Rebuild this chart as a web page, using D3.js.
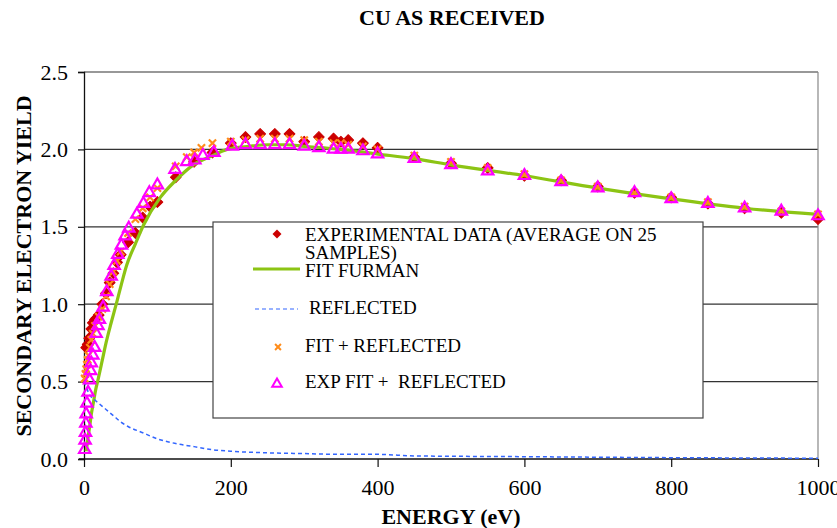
<!DOCTYPE html>
<html>
<head>
<meta charset="utf-8">
<script src="https://cdn.jsdelivr.net/npm/d3@7"></script>
<style>
  body { margin: 0; background: #fff; }
  text { white-space: pre; }
</style>
</head>
<body>
<div id="chart"></div>
<script>
// experimental data (average on 25 samples)
var expE = [3,5,7,10,12,15,17,20,25,30,35,40,45,50,60,70,80,90,100,125,150,175,200,220,240,260,280,300,320,340,350,360,380,400,450,500,550,600,650,700,750,800,850,900,950,1000];
var expY = [0.72,0.74,0.78,0.84,0.88,0.90,0.91,0.93,1.00,1.07,1.14,1.20,1.27,1.32,1.40,1.46,1.56,1.63,1.66,1.82,1.92,1.98,2.04,2.08,2.10,2.10,2.10,2.05,2.08,2.07,2.05,2.06,2.04,2.01,1.95,1.91,1.88,1.83,1.80,1.76,1.72,1.69,1.65,1.62,1.59,1.55];

// fit furman
var fitE = [3,5,8,10,13,16,19,25,30,37,45,51,58,70,81,104,125,149,175,195,225,250,275,300,350,400,450,500,600,700,800,900,1000];
var fitY = [0.05,0.12,0.22,0.29,0.37,0.45,0.51,0.64,0.75,0.88,1.02,1.13,1.25,1.39,1.51,1.69,1.80,1.90,1.96,2.00,2.02,2.03,2.03,2.02,2.00,1.97,1.94,1.90,1.83,1.75,1.68,1.62,1.58];

// reflected
var refE = [0,3,6,10,15,20,30,40,50,60,80,100,125,150,175,200,250,300,350,400,450,600,750,1000];
var refY = [0.50,0.47,0.43,0.40,0.38,0.36,0.32,0.28,0.24,0.21,0.17,0.13,0.10,0.08,0.06,0.05,0.04,0.035,0.03,0.03,0.02,0.015,0.01,0.005];

// fit + reflected
var sumE = [1,2,3,4,5,6,8,10,12,15,20,25,30,35,40,45,50,60,70,80,90,100,125,140,150,160,175,200,220,240,260,280,300,320,340,350,360,380,400,450,500,550,600,650,700,750,800,850,900,950,1000];
var sumY = [0.52,0.55,0.58,0.61,0.64,0.67,0.72,0.77,0.81,0.86,0.92,0.97,1.05,1.13,1.21,1.28,1.34,1.46,1.55,1.62,1.69,1.75,1.89,1.95,1.98,2.01,2.04,2.05,2.06,2.07,2.07,2.07,2.06,2.05,2.04,2.04,2.03,2.02,2.00,1.96,1.92,1.88,1.84,1.80,1.76,1.72,1.69,1.66,1.63,1.60,1.58];

// exp fit + reflected
var expFitE = [1,1.5,2,2.5,3,4,5.5,7.5,9,10,12,14.5,16.5,19,21,26,31,37,41,46,51,56,61,72,81,89,100,124,140,151,162,177,202,220,240,260,280,300,320,340,350,360,380,400,450,500,550,600,650,700,750,800,850,900,950,1000];
var expFitY = [0.06,0.12,0.17,0.23,0.29,0.36,0.43,0.51,0.57,0.62,0.67,0.72,0.81,0.86,0.90,0.98,1.08,1.18,1.25,1.32,1.38,1.44,1.49,1.58,1.65,1.72,1.77,1.87,1.92,1.93,1.96,1.98,2.02,2.03,2.03,2.03,2.03,2.02,2.01,2.00,2.00,2.00,1.99,1.97,1.94,1.90,1.86,1.83,1.79,1.75,1.72,1.68,1.65,1.62,1.60,1.57];

var xTicks = [0,200,400,600,800,1000];
var yTicks = [0,0.5,1.0,1.5,2.0,2.5];

var svgWidth = 837;
var svgHeight = 528;
var margin = {top: 72, right: 19, bottom: 69, left: 84};
var width = svgWidth - margin.left - margin.right;
var height = svgHeight - margin.top - margin.bottom;
var serif = "Liberation Serif";

var svg = d3.select("#chart")
  .append("svg")
  .attr("width", svgWidth)
  .attr("height", svgHeight);

var chartGroup = svg.append("g")
  .attr("transform", `translate(${margin.left}, ${margin.top})`);

var xScale = d3.scaleLinear().domain([0, 1000]).range([0, width]);
var yScale = d3.scaleLinear().domain([0, 2.5]).range([height, 0]);

function zip(xs, ys) {
  return xs.map(function(e, i) { return {e: e, y: ys[i]}; });
}

// gridlines
chartGroup.selectAll(".grid")
  .data(yTicks.filter(d => d > 0))
  .enter().append("line")
  .attr("x1", 0).attr("x2", width)
  .attr("y1", d => yScale(d)).attr("y2", d => yScale(d))
  .attr("stroke", "#333").attr("stroke-width", 1.2);

// right border
chartGroup.append("line")
  .attr("x1", width).attr("x2", width)
  .attr("y1", 0).attr("y2", height)
  .attr("stroke", "#888").attr("stroke-width", 1.2);

var leftAxis = d3.axisLeft(yScale).tickValues(yTicks).tickFormat(d3.format(".1f")).tickSize(6).tickPadding(10);
var bottomAxis = d3.axisBottom(xScale).tickValues(xTicks).tickFormat(d3.format("d")).tickSize(8).tickPadding(12);

var gy = chartGroup.append("g").call(leftAxis);
var gx = chartGroup.append("g").attr("transform", `translate(0, ${height})`).call(bottomAxis);
[gy, gx].forEach(function(g) {
  g.attr("font-family", serif).attr("font-size", 22);
  g.select(".domain").attr("stroke", "#111").attr("stroke-width", 1.3);
  g.selectAll(".tick line").attr("stroke", "#111").attr("stroke-width", 1.2);
  g.selectAll("text").attr("fill", "#000").attr("font-family", serif);
});
gx.select(".domain").attr("d", `M-5,0H${width}`);

var line = d3.line().x(d => xScale(d.e)).y(d => yScale(d.y));

// markers
var diamond = d3.symbol().type(d3.symbolSquare).size(58);
var times = d3.symbol().type(d3.symbolTimes || d3.symbolX).size(36);
var tri = d3.symbol().type(d3.symbolTriangle).size(56);

chartGroup.selectAll(".exp")
  .data(zip(expE, expY))
  .enter().append("path")
  .attr("d", diamond)
  .attr("transform", d => `translate(${xScale(d.e)},${yScale(d.y)}) rotate(45)`)
  .attr("fill", "#cc0000")
  .attr("stroke", "#cc0000")
  .attr("stroke-width", 1)
  .attr("stroke-linejoin", "round");

chartGroup.append("path")
  .datum(zip(fitE, fitY))
  .attr("d", line.curve(d3.curveMonotoneX))
  .attr("fill", "none")
  .attr("stroke", "#8cc414")
  .attr("stroke-width", 3.2);

chartGroup.append("path")
  .datum(zip(refE, refY))
  .attr("d", line.curve(d3.curveMonotoneX))
  .attr("fill", "none")
  .attr("stroke", "#3366ff")
  .attr("stroke-width", 1.5)
  .attr("stroke-dasharray", "4,3");

chartGroup.selectAll(".sum")
  .data(zip(sumE, sumY))
  .enter().append("path")
  .attr("d", times)
  .attr("transform", d => `translate(${xScale(d.e)},${yScale(d.y)})`)
  .attr("fill", "none")
  .attr("stroke", "#ff8c1a")
  .attr("stroke-width", 2.2);

chartGroup.selectAll(".expfit")
  .data(zip(expFitE, expFitY))
  .enter().append("path")
  .attr("d", tri)
  .attr("transform", d => `translate(${xScale(d.e)},${yScale(d.y)})`)
  .attr("fill", "none")
  .attr("stroke", "#ff00ff")
  .attr("stroke-width", 2.2);

// legend
var legend = svg.append("g");
legend.append("rect")
  .attr("x", 213).attr("y", 222)
  .attr("width", 490).attr("height", 196)
  .attr("fill", "#fff")
  .attr("stroke", "#444").attr("stroke-width", 1.2);

legend.append("path").attr("d", d3.symbol().type(d3.symbolSquare).size(40))
  .attr("transform", "translate(277,234) rotate(45)").attr("fill", "#cc0000");
legend.append("line").attr("x1", 253).attr("x2", 300).attr("y1", 269).attr("y2", 269)
  .attr("stroke", "#8cc414").attr("stroke-width", 3);
legend.append("line").attr("x1", 255).attr("x2", 298).attr("y1", 309).attr("y2", 309)
  .attr("stroke", "#3366ff").attr("stroke-width", 1.2).attr("stroke-dasharray", "4,3");
legend.append("path").attr("d", d3.symbol().type(d3.symbolTimes || d3.symbolX).size(24))
  .attr("transform", "translate(278,347)").attr("fill", "none")
  .attr("stroke", "#ff8c1a").attr("stroke-width", 2);
legend.append("path").attr("d", d3.symbol().type(d3.symbolTriangle).size(40))
  .attr("transform", "translate(277,384)").attr("fill", "none")
  .attr("stroke", "#ff00ff").attr("stroke-width", 2);

var legendTexts = [
  {t: "EXPERIMENTAL DATA (AVERAGE ON 25", x: 305, y: 241},
  {t: "SAMPLES)", x: 305, y: 259},
  {t: "FIT FURMAN", x: 305, y: 277},
  {t: "REFLECTED", x: 309, y: 314},
  {t: "FIT + REFLECTED", x: 305, y: 352},
  {t: "EXP FIT +  REFLECTED", x: 305, y: 388}
];
legend.selectAll(".lt")
  .data(legendTexts)
  .enter().append("text")
  .attr("x", d => d.x).attr("y", d => d.y)
  .attr("font-family", serif)
  .attr("font-size", 19)
  .attr("fill", "#000")
  .text(d => d.t);

// titles
svg.append("text")
  .attr("x", 452).attr("y", 25)
  .attr("text-anchor", "middle")
  .attr("font-family", serif)
  .attr("font-size", 22).attr("font-weight", "bold")
  .text("CU AS RECEIVED");

svg.append("text")
  .attr("transform", "translate(31, 266) rotate(-90)")
  .attr("text-anchor", "middle")
  .attr("font-family", serif)
  .attr("font-size", 22).attr("font-weight", "bold")
  .text("SECONDARY ELECTRON YIELD");

svg.append("text")
  .attr("x", 451).attr("y", 524)
  .attr("text-anchor", "middle")
  .attr("font-family", serif)
  .attr("font-size", 22).attr("font-weight", "bold")
  .text("ENERGY (eV)");
</script>
</body>
</html>
